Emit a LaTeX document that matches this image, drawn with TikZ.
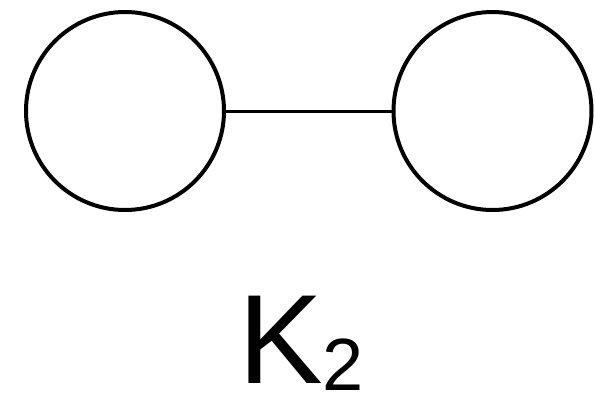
\documentclass[tikz,border=0pt]{standalone}
\usepackage{fontspec}
\setmainfont{Liberation Sans}
\begin{document}
\begin{tikzpicture}[x=1pt,y=-1pt,
  vertex/.style={circle,draw=black,line width=4pt,minimum size=198pt,inner sep=0pt},
  edge/.style={line width=3pt,draw=black}]
\useasboundingbox (0,0) rectangle (595,405);
\node[vertex] (a) at (125,111) {};
\node[vertex] (b) at (492.5,111) {};
\draw[edge] (a) -- (b);
\node[anchor=base west,inner sep=0pt,text depth=0pt] (label) at (238,383)
  {\fontsize{127}{127}\selectfont K\raisebox{-7pt}[\height][0pt]{\fontsize{74}{74}\selectfont 2}};
\end{tikzpicture}
\end{document}
